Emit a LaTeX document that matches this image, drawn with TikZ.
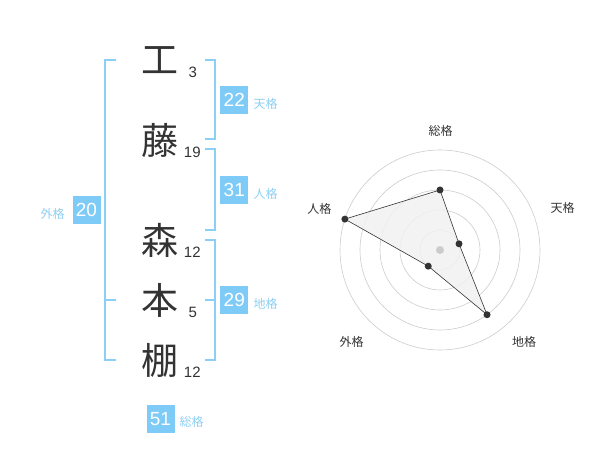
\documentclass[tikz,border=0pt]{standalone}
\usepackage{fontspec}
\usetikzlibrary{calc}
\setmainfont{Liberation Sans}
\newfontfamily\jp{Noto Sans CJK JP}
\definecolor{bracketblue}{HTML}{8ACFF5}
\definecolor{boxblue}{HTML}{7FCBF8}
\definecolor{lblblue}{HTML}{8CCFF3}
\definecolor{ink}{HTML}{333333}
\definecolor{ringgrey}{HTML}{CCCCCC}
\definecolor{polyfill}{HTML}{F1F1F1}
\begin{document}
\begin{tikzpicture}[x=1pt,y=-1pt,
  kanji/.style={inner sep=0pt,text=ink,font=\jp\fontsize{37}{40}\selectfont},
  stroke/.style={inner sep=0pt,text=ink,font=\fontsize{15}{16}\selectfont},
  scorebox/.style={fill=boxblue,text=white,minimum width=28pt,minimum height=28pt,inner sep=0pt,font=\fontsize{19}{20}\selectfont},
  kaku/.style={inner sep=0pt,text=lblblue,font=\jp\fontsize{12}{13}\selectfont},
  brk/.style={draw=bracketblue,line width=2pt},
  axislbl/.style={inner sep=0pt,text=ink,font=\jp\fontsize{12}{13}\selectfont},
  ring/.style={draw=ringgrey,line width=0.6pt},
  vdot/.style={circle,fill=ink,inner sep=0pt,minimum size=7pt}]
\useasboundingbox (0,0) rectangle (600,470);
% kanji
\node[kanji] (k1) at (159.5,60) {工};
\node[kanji] (k2) at (159.5,140) {藤};
\node[kanji] (k3) at (159.5,240) {森};
\node[kanji] (k4) at (159.5,300) {本};
\node[kanji] (k5) at (159.5,360) {棚};
% stroke counts
\node[stroke] (s1) at (192.7,72.7) {3};
\node[stroke] (s2) at (192.3,152.7) {19};
\node[stroke] (s3) at (192.3,252.7) {12};
\node[stroke] (s4) at (192.7,312.7) {5};
\node[stroke] (s5) at (192.3,372.7) {12};
% brackets
\draw[brk] (205,60) -- (215,60) -- (215,139.5) -- (205,139.5);
\draw[brk] (205,149.5) -- (215,149.5) -- (215,230) -- (205,230);
\draw[brk] (205,240) -- (215,240) -- (215,360) -- (205,360);
\draw[brk] (205,300) -- (215,300);
\draw[brk] (116,60) -- (105,60) -- (105,360) -- (116,360);
\draw[brk] (105,300) -- (116,300);
% score boxes
\node[scorebox] (ten) at (234.3,100.3) {22};
\node[kaku] (tenl) at (265.7,104) {天格};
\node[scorebox] (jin) at (234.3,190.2) {31};
\node[kaku] (jinl) at (265.7,194) {人格};
\node[scorebox] (chi) at (234.3,300.3) {29};
\node[kaku] (chil) at (265.7,304) {地格};
\node[scorebox] (gai) at (86.5,210.2) {20};
\node[kaku] (gail) at (52.7,214) {外格};
\node[scorebox] (sou) at (160.5,419.2) {51};
\node[kaku] (soul) at (191.7,422.3) {総格};
% radar
\coordinate (c) at (440,250);
\foreach \r in {20,40,60,80,100} \draw[ring] (c) circle[radius=\r];
\coordinate (pS) at ($(c)+(0,-60)$);
\coordinate (pT) at ($(c)+({20*cos(18)},{-20*sin(18)})$);
\coordinate (pC) at ($(c)+({80*cos(54)},{80*sin(54)})$);
\coordinate (pG) at ($(c)+({-20*cos(54)},{20*sin(54)})$);
\coordinate (pJ) at ($(c)+({-100*cos(18)},{-100*sin(18)})$);
\filldraw[fill=polyfill,fill opacity=0.85,draw=ink,line width=0.6pt] (pS) -- (pT) -- (pC) -- (pG) -- (pJ) -- cycle;
\fill[ringgrey] (c) circle[radius=4];
\foreach \p in {pS,pT,pC,pG,pJ} \node[vdot] at (\p) {};
\node[axislbl] (aS) at (440.7,130.7) {総格};
\node[axislbl] (aT) at (562.7,208.3) {天格};
\node[axislbl] (aC) at (524,341.7) {地格};
\node[axislbl] (aG) at (351.7,341.7) {外格};
\node[axislbl] (aJ) at (319.3,209) {人格};
\end{tikzpicture}
\end{document}
